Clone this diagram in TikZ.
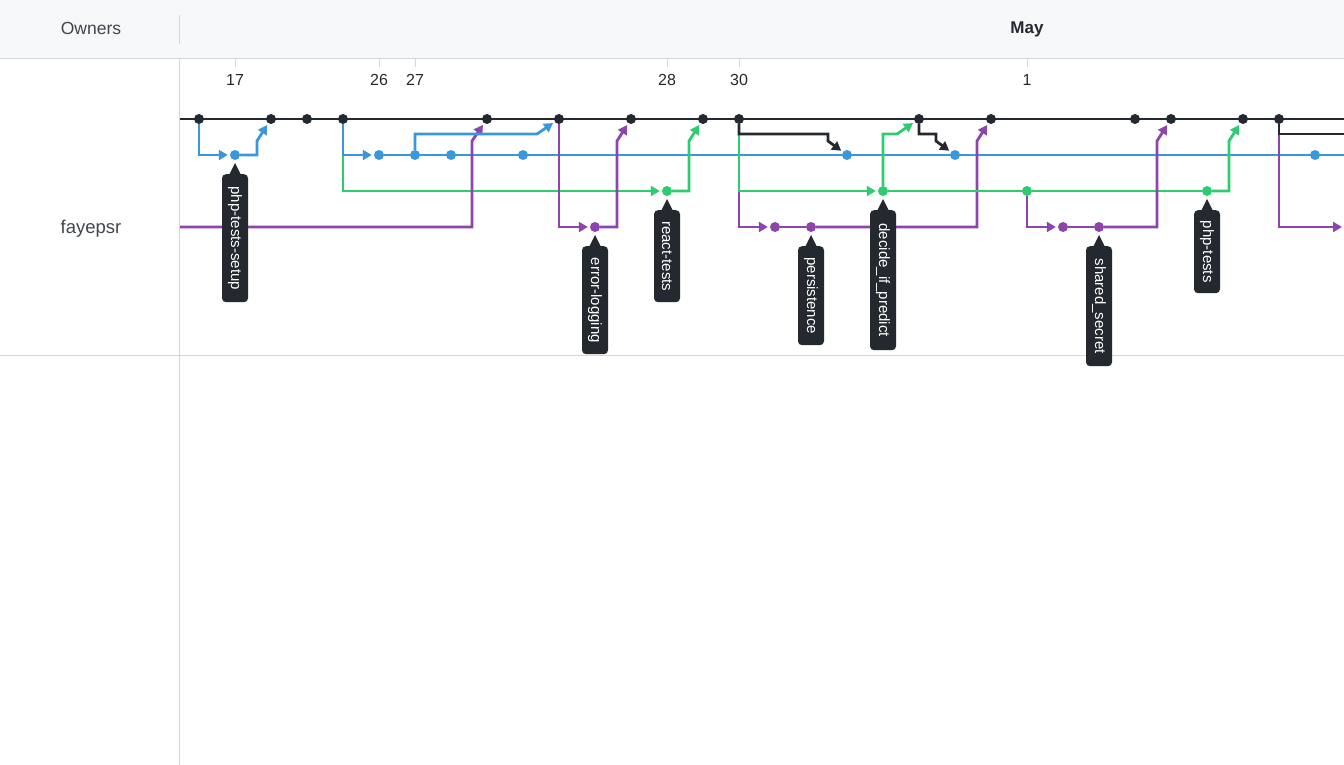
\documentclass[tikz,border=0pt]{standalone}
\usepackage{fontspec}
\setmainfont{Liberation Sans}
\usetikzlibrary{arrows.meta,calc,backgrounds}
\definecolor{gblack}{HTML}{24292F}
\definecolor{gblue}{HTML}{3A97DC}
\definecolor{ggreen}{HTML}{2ECC71}
\definecolor{gpurple}{HTML}{8E44AD}
\definecolor{hdrbg}{HTML}{F6F8FA}
\definecolor{rulec}{HTML}{D0D7DE}
\definecolor{hdrtext}{HTML}{40464E}
\begin{document}
\begin{tikzpicture}[x=1pt,y=-1pt,
  ln/.style={line width=2.8pt},
  arr/.style={-{Triangle[length=9pt,width=10pt]},shorten >=2pt},
  dot/.style={circle,fill=#1,draw=none,inner sep=0pt,minimum size=10pt},
  tag/.style={fill=gblack,text=white,rounded corners=4pt,rotate=-90,anchor=west,minimum height=26pt,inner sep=0pt,font=\fontsize{15}{15}\selectfont},
  rulel/.style={draw=rulec,line width=1pt},
  datel/.style={font=\fontsize{16}{16}\selectfont,text=gblack},
  hdrl/.style={font=\fontsize{17.5}{17.5}\selectfont,text=hdrtext}]
\useasboundingbox (0,0) rectangle (1344,765);
% frame
\fill[hdrbg] (0,0) rectangle (1344,59);
\draw[rulel] (0,59) -- (1344,59);
\draw[rulel] (0,355) -- (1344,355);
\draw[rulel] (179,15) -- (179,44);
\draw[rulel] (179,59) -- (179,765);
\node[hdrl] (owners) at (91,28) {Owners};
\node[font=\bfseries\fontsize{17}{17}\selectfont,text=gblack] (may) at (1027,29) {May};
\node[font=\fontsize{18.5}{18.5}\selectfont,text=hdrtext] (owner) at (91,229) {fayepsr};
\foreach \x/\d in {235/17,379/26,415/27,667/28,739/30,1027/1}{
  \draw[rulel] (\x,59) -- (\x,67);
  \node[datel] (d\d) at (\x,80) {\d};
}
% edge coordinates
\coordinate (kL) at (179,119);
\coordinate (eK) at (1344,119);
\coordinate (eK2) at (1344,134);
\coordinate (eB) at (1344,155);
\coordinate (pL) at (179,227);
\coordinate (eP) at (1344,227);
% commits
\foreach \n/\x in {k1/199,k2/271,k3/307,k4/343,k5/487,k6/559,k7/631,k8/703,k9/739,k10/919,k11/991,k12/1135,k13/1171,k14/1243,k15/1279}
  \node[dot=gblack] (\n) at (\x,119) {};
\foreach \n/\x in {b1/235,b2/379,b3/415,b4/451,b5/523,b6/847,b7/955,b8/1315}
  \node[dot=gblue] (\n) at (\x,155) {};
\foreach \n/\x in {g1/667,g2/883,g3/1027,g4/1207}
  \node[dot=ggreen] (\n) at (\x,191) {};
\foreach \n/\x in {p1/595,p2/775,p3/811,p4/1063,p5/1099}
  \node[dot=gpurple] (\n) at (\x,227) {};
% connectors
\begin{scope}[on background layer]
\draw[ln,gblack] (kL) -- (eK);
\draw[ln,gblue,arr] (k1) |- (b1);
\draw[ln,gblue,arr] (b1) -| ($(k2)+(-14,22)$) -- (k2);
\draw[ln,ggreen,arr] (k4) |- (g1);
\draw[ln,gblue,arr] (k4) |- (b2);
\draw[ln,gblue] (b2) -- (eB);
\draw[ln,gpurple,arr] (pL) -| ($(k5)+(-15,22)$) -- (k5);
\draw[ln,gblue,arr] (b3) |- ($(k6)+(-22,15)$) -- (k6);
\draw[ln,gpurple,arr] (k6) |- (p1);
\draw[ln,gpurple,arr] (p1) -| ($(k7)+(-14,22)$) -- (k7);
\draw[ln,ggreen,arr] (g1) -| ($(k8)+(-14,22)$) -- (k8);
\draw[ln,gpurple,arr] (k9) |- (p2);
\draw[ln,gpurple] (p2) -- (p3);
\draw[ln,gpurple,arr] (p3) -| ($(k11)+(-14,22)$) -- (k11);
\draw[ln,ggreen,arr] (k9) |- (g2);
\draw[ln,gblack,arr] (k9) |- ($(b6)+(-19,-21)$) -- ($(b6)+(-19,-14)$) -- (b6);
\draw[ln,ggreen,arr] (g2) |- ($(k10)+(-22,15)$) -- (k10);
\draw[ln,ggreen] (g2) -- (g3) -- (g4);
\draw[ln,gblack,arr] (k10) |- ($(b7)+(-19,-21)$) -- ($(b7)+(-19,-14)$) -- (b7);
\draw[ln,gpurple,arr] (g3) |- (p4);
\draw[ln,gpurple] (p4) -- (p5);
\draw[ln,gpurple,arr] (p5) -| ($(k13)+(-14,22)$) -- (k13);
\draw[ln,ggreen,arr] (g4) -| ($(k14)+(-14,22)$) -- (k14);
\draw[ln,gpurple,arr] (k15) |- (eP);
\draw[ln,gblack] (k15) |- (eK2);
\end{scope}
% tags
\foreach \n/\x/\y/\l/\t in {t1/235/174/128/php-tests-setup,t2/595/246/108/error-logging,t3/667/210/92/react-tests,t4/811/246/99/persistence,t5/883/210/140/decide\_if\_predict,t6/1099/246/120/shared\_secret,t7/1207/210/83/php-tests}{
  \node[tag,minimum width=\l pt] (\n) at (\x,\y) {\t};
  \fill[gblack] ($(\n.west)+(-6,1)$) -- ($(\n.west)+(0,-11)$) -- ($(\n.west)+(6,1)$) -- cycle;
}
\end{tikzpicture}
\end{document}
